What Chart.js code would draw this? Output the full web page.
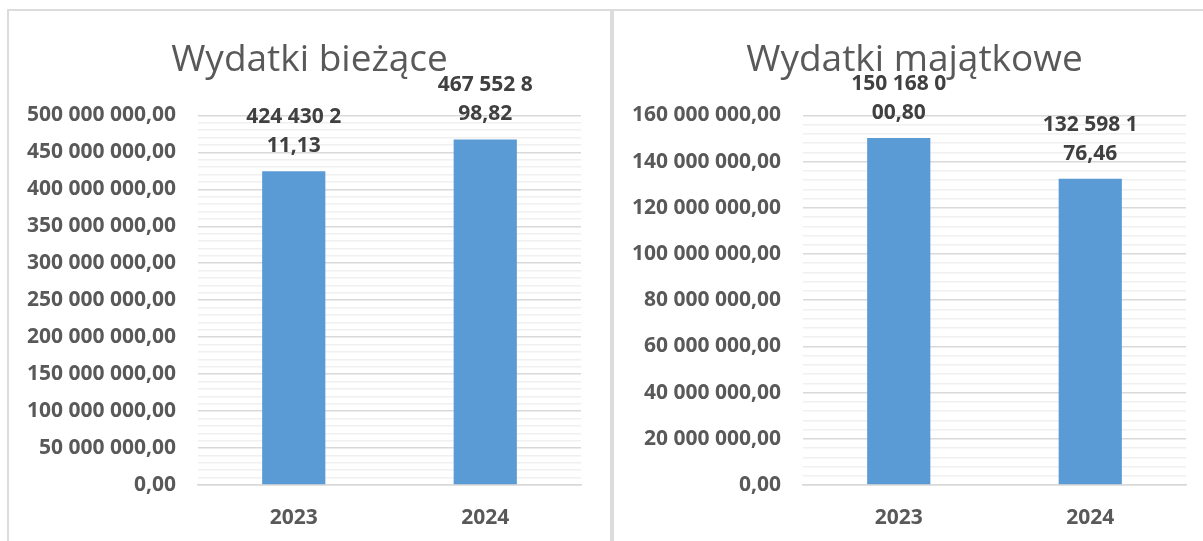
<!DOCTYPE html>
<html>
<head>
<meta charset="utf-8">
<script src="https://cdn.jsdelivr.net/npm/chart.js@4/dist/chart.umd.min.js"></script>
<style>
  html, body { margin: 0; padding: 0; background: #fff; }
  body { width: 1203px; height: 541px; position: relative; overflow: hidden; }
  .line { position: absolute; background: #dcdcdc; }
  .box { position: absolute; }
</style>
</head>
<body>
<div class="line" style="left:7px; top:9px; width:1196px; height:2px;"></div>
<div class="line" style="left:7px; top:9px; width:2px; height:532px;"></div>
<div class="line" style="left:610px; top:9px; width:4px; height:532px;"></div>
<div class="box" style="left:9px; top:11px; width:601px; height:530px;"><canvas id="currentChart"></canvas></div>
<div class="box" style="left:614px; top:11px; width:601px; height:530px;"><canvas id="assetChart"></canvas></div>
<script>
// --- Dane ---
const years = ['2023', '2024'];
const currentValues = [424430211.13, 467552898.82];
const assetValues = [150168000.80, 132598176.46];
const currentTicks = { max: 500000000, step: 50000000, minor: 10000000 };
const assetTicks = { max: 160000000, step: 20000000, minor: 4000000 };

Chart.defaults.font.family = "'Open Sans', sans-serif";
Chart.defaults.color = '#595959';

// format: 500 000 000,00
function plNumber(v) {
    const parts = Number(v).toFixed(2).split('.');
    const intPart = parts[0].replace(/\B(?=(\d{3})+(?!\d))/g, ' ');
    return intPart + ',' + parts[1];
}

// etykiety nad słupkami, zawijane jak w Excelu (9 znaków w linii)
const barLabels = {
    id: 'barLabels',
    afterDatasetsDraw(chart) {
        const ctx = chart.ctx;
        const meta = chart.getDatasetMeta(0);
        const data = chart.data.datasets[0].data;
        ctx.save();
        ctx.font = "bold 21px 'Open Sans', sans-serif";
        ctx.fillStyle = '#404040';
        ctx.textAlign = 'center';
        ctx.textBaseline = 'middle';
        meta.data.forEach((bar, i) => {
            const txt = plNumber(data[i]);
            const lines = [txt.slice(0, 9), txt.slice(9)];
            ctx.fillText(lines[0], bar.x, bar.y - 25 - 29);
            ctx.fillText(lines[1], bar.x, bar.y - 25);
        });
        ctx.restore();
    }
};

function makeChart(canvasId, title, values, t) {
    const ctx = document.getElementById(canvasId).getContext('2d');
    return new Chart(ctx, {
        type: 'bar',
        data: {
            labels: years,
            datasets: [{
                data: values,
                backgroundColor: '#5b9bd5',
                borderWidth: 0,
                barPercentage: 0.33,
                categoryPercentage: 1
            }]
        },
        options: {
            responsive: true,
            maintainAspectRatio: false,
            animation: false,
            layout: { padding: { left: 0, right: 0, top: 0, bottom: 11 } },
            plugins: {
                legend: { display: false },
                tooltip: { enabled: false },
                title: {
                    display: true,
                    text: title,
                    color: '#595959',
                    font: { size: 37, weight: 'normal' },
                    padding: { top: 27, bottom: 33 }
                }
            },
            scales: {
                x: {
                    afterFit(scale) { scale.height = 45; },
                    grid: { display: false, drawTicks: false },
                    border: { color: '#d9d9d9', width: 1.5 },
                    ticks: { font: { size: 21, weight: 'bold' }, padding: 20 }
                },
                y: {
                    min: 0,
                    max: t.max,
                    afterFit(scale) { scale.width = 189; },
                    border: { display: false },
                    grid: { color: '#d9d9d9', lineWidth: 1.5, drawTicks: false },
                    ticks: {
                        stepSize: t.step,
                        autoSkip: false,
                        padding: 22,
                        font: { size: 21, weight: 'bold' },
                        callback: v => plNumber(v)
                    }
                },
                yMinor: {
                    position: 'left',
                    min: 0,
                    max: t.max,
                    afterFit(scale) { scale.width = 0; },
                    border: { display: false },
                    grid: {
                        drawTicks: false,
                        lineWidth: 1.5,
                        color: c => (c.tick && c.tick.value % t.step === 0) ? 'rgba(0,0,0,0)' : '#f0f0f0'
                    },
                    ticks: { display: false, stepSize: t.minor, autoSkip: false }
                },
                // pusty margines po prawej (tytuł zostaje wyśrodkowany na całej szerokości)
                ySpacer: {
                    position: 'right',
                    afterFit(scale) { scale.width = 29; },
                    border: { display: false },
                    grid: { display: false, drawTicks: false },
                    ticks: { display: false }
                }
            }
        },
        plugins: [barLabels]
    });
}

makeChart('currentChart', 'Wydatki bieżące', currentValues, currentTicks);
makeChart('assetChart', 'Wydatki majątkowe', assetValues, assetTicks);
</script>
</body>
</html>
